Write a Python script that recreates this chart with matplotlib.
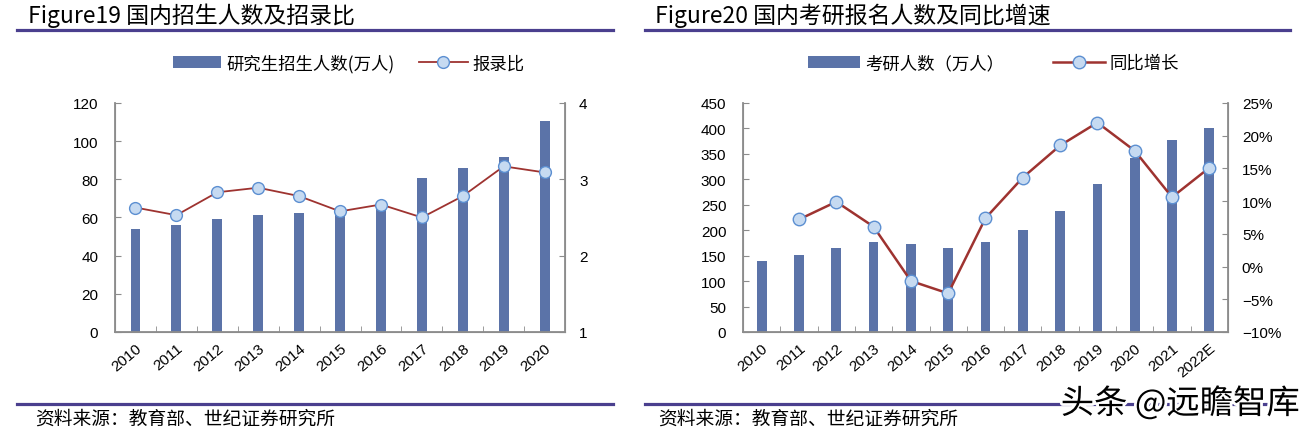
import matplotlib.pyplot as plt
import matplotlib.patheffects as pe
from matplotlib.ticker import FixedLocator, FuncFormatter
import numpy as np

plt.rcParams['font.family'] = ['Liberation Sans', 'Noto Sans CJK SC', 'DejaVu Sans']

# Figure19 data
years19 = ['2010', '2011', '2012', '2013', '2014', '2015', '2016', '2017', '2018', '2019', '2020']
enroll = [53.8, 56.0, 59.0, 61.4, 62.4, 64.5, 66.7, 80.6, 85.8, 91.7, 110.7]
ratio = [2.63, 2.53, 2.83, 2.89, 2.78, 2.58, 2.67, 2.50, 2.78, 3.17, 3.09]

# Figure20 data
years20 = ['2010', '2011', '2012', '2013', '2014', '2015', '2016', '2017', '2018', '2019', '2020', '2021', '2022E']
applicants = [140, 151, 165.6, 176, 172, 164.9, 177, 201, 238, 290, 341, 377, 400]
growth = [None, 7.2, 9.9, 6.1, -2.2, -4.1, 7.4, 13.6, 18.5, 22.0, 17.7, 10.6, 15.1]

bar_color = '#5B73A8'
line_color = '#9E3330'
mk_face = '#C6DAF1'
mk_edge = '#5C8FD1'
rule_color = '#4A3F8E'
spine_color = '#8C8C8C'
cjk = ['Noto Sans CJK SC', 'DejaVu Sans']

fig = plt.figure(figsize=(13.16, 4.35), dpi=100)


def style_axes(ax, ax2, n):
    ax.spines['top'].set_visible(False)
    ax2.spines['top'].set_visible(False)
    for s in ['left', 'right', 'bottom']:
        ax.spines[s].set_color(spine_color)
        ax2.spines[s].set_color(spine_color)
        ax2.spines[s].set_linewidth(1.3)
    ax.tick_params(axis='y', direction='in', length=4, color=spine_color, labelsize=11, pad=12)
    ax2.tick_params(axis='y', direction='in', length=4, color=spine_color, labelsize=11, pad=10)
    ax.tick_params(axis='x', which='major', length=0, labelsize=11, pad=6)
    ax.xaxis.set_minor_locator(FixedLocator(np.arange(0.5, n - 1, 1)))
    ax.tick_params(axis='x', which='minor', direction='in', length=4, color=spine_color)
    for lbl in ax.get_xticklabels():
        lbl.set_rotation(40)
        lbl.set_ha('right')
        lbl.set_rotation_mode('anchor')


# ---------- Figure19 ----------
ax1 = fig.add_axes([0.0874, 0.2345, 0.342, 0.5265])
x1 = np.arange(len(years19))
b1 = ax1.bar(x1, enroll, width=0.24, color=bar_color)
ax1.set_xlim(-0.5, len(years19) - 0.5)
ax1.set_ylim(0, 120)
ax1.set_yticks(range(0, 121, 20))
ax1.set_xticks(x1)
ax1.set_xticklabels(years19)
ax1b = ax1.twinx()
l1, = ax1b.plot(x1, ratio, color=line_color, lw=1.3, marker='o', ms=8.5,
                mfc=mk_face, mec=mk_edge, mew=1.0)
ax1b.set_ylim(1, 4)
ax1b.set_yticks([1, 2, 3, 4])
style_axes(ax1, ax1b, len(years19))
fig.legend([b1, l1], ['研究生招生人数(万人)', '报录比'], loc='center',
           bbox_to_anchor=(0.265, 0.853), ncol=2, frameon=False,
           prop={'family': cjk, 'size': 12.5}, handlelength=2.8,
           columnspacing=1.4, handletextpad=0.3)

# ---------- Figure20 ----------
ax2 = fig.add_axes([0.5646, 0.2345, 0.3685, 0.5265])
x2 = np.arange(len(years20))
b2 = ax2.bar(x2, applicants, width=0.26, color=bar_color)
ax2.set_xlim(-0.5, len(years20) - 0.5)
ax2.set_ylim(0, 450)
ax2.set_yticks(range(0, 451, 50))
ax2.set_xticks(x2)
ax2.set_xticklabels(years20)
ax2b = ax2.twinx()
gx = [i for i, g in enumerate(growth) if g is not None]
gy = [g for g in growth if g is not None]
l2, = ax2b.plot(gx, gy, color=line_color, lw=1.8, marker='o', ms=9,
                mfc=mk_face, mec=mk_edge, mew=1.0)
ax2b.set_ylim(-10, 25)
ax2b.set_yticks(range(-10, 26, 5))
ax2b.yaxis.set_major_formatter(FuncFormatter(lambda v, p: f'{int(v)}%'.replace('-', '−')))
style_axes(ax2, ax2b, len(years20))
fig.legend([b2, l2], ['考研人数（万人）', '同比增长'], loc='center',
           bbox_to_anchor=(0.755, 0.853), ncol=2, frameon=False,
           prop={'family': cjk, 'size': 12.5}, handlelength=3.0,
           columnspacing=2.8, handletextpad=0.3)

# ---------- titles, rules, sources ----------
fig.text(28 / 1316, 1 - 16 / 435, 'Figure19 国内招生人数及招录比', family=cjk,
         fontsize=16.5, va='center', ha='left')
fig.text(655 / 1316, 1 - 16 / 435, 'Figure20 国内考研报名人数及同比增速', family=cjk,
         fontsize=16.5, va='center', ha='left')
for xa, xb in [(17, 613), (645, 1290)]:
    for yy in (31, 405):
        fig.add_artist(plt.Line2D([xa / 1316, xb / 1316], [1 - yy / 435] * 2,
                                  color=rule_color, lw=2.3))
fig.text(35 / 1316, 1 - 419 / 435, '资料来源：教育部、世纪证券研究所', family=cjk,
         fontsize=13.5, va='center', ha='left')
fig.text(658 / 1316, 1 - 419 / 435, '资料来源：教育部、世纪证券研究所', family=cjk,
         fontsize=13.5, va='center', ha='left')
fig.text(1300 / 1316, 1 - 405 / 435, '头条 @远瞻智库', family=cjk, fontsize=24,
         va='center', ha='right', color='black',
         path_effects=[pe.withStroke(linewidth=4, foreground='white')])

fig.savefig('out.png', dpi=100)
